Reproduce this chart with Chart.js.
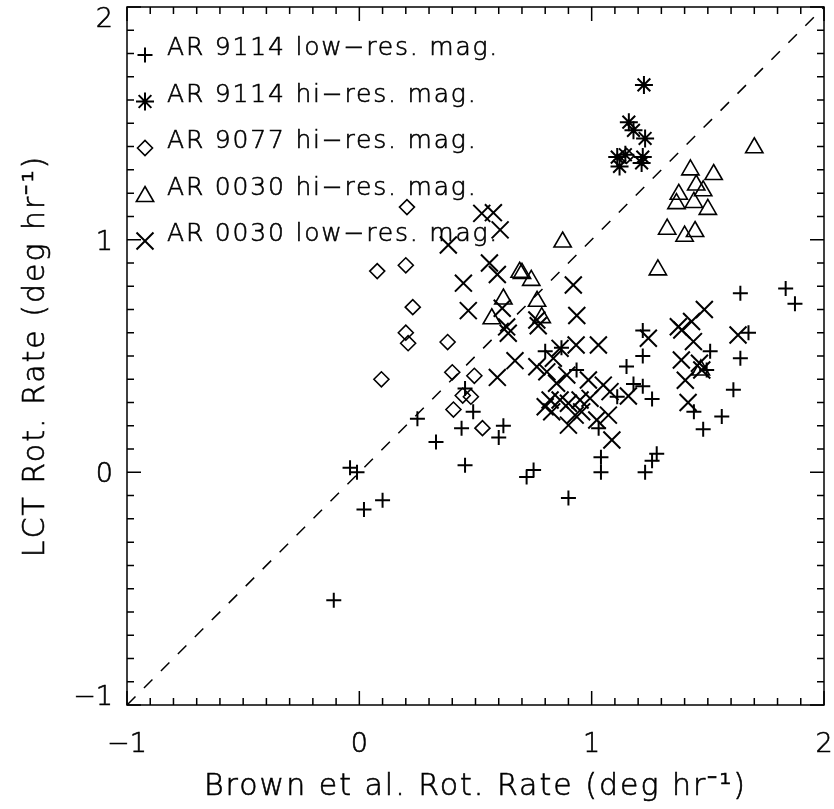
<!DOCTYPE html>
<html>
<head>
<meta charset="utf-8">
<script src="https://cdn.jsdelivr.net/npm/chart.js@4/dist/chart.umd.min.js"></script>
<style>
  html, body { margin: 0; padding: 0; background: #fff; overflow: hidden; }
  #wrap { width: 834px; height: 809px; overflow: hidden; position: relative; }
  #c { position: absolute; left: 0; top: -30px; }
</style>
</head>
<body>
<div id="wrap"><canvas id="c" width="900" height="839"></canvas></div>
<script>
// Rotation rates (deg/hr): Brown et al. (x) vs. LCT (y)

// AR 9114, low-resolution magnetograms
const ar9114LowX = [-0.11, -0.04, -0.01, 0.02, 0.10, 0.25, 0.33, 0.455, 0.49, 0.44, 0.455, 0.62, 0.60,
  0.72, 0.75, 0.90, 1.04, 1.04, 1.23, 1.26, 1.28, 1.64, 1.835, 1.875, 1.51, 1.675, 1.64, 1.495,
  1.61, 1.44, 1.56, 1.48, 1.22, 1.22, 1.15, 1.18, 1.22, 1.26, 1.11, 1.03, 0.935, 0.87, 0.80];
const ar9114LowY = [-0.55, 0.02, 0.00, -0.16, -0.12, 0.23, 0.13, 0.36, 0.26, 0.19, 0.03, 0.20, 0.15,
  -0.02, 0.01, -0.11, 0.065, 0.00, 0.00, 0.05, 0.08, 0.77, 0.79, 0.725, 0.52, 0.60, 0.49, 0.44,
  0.355, 0.26, 0.24, 0.185, 0.61, 0.50, 0.455, 0.38, 0.37, 0.315, 0.325, 0.19, 0.44, 0.535, 0.52];

// AR 9114, high-resolution magnetograms
const ar9114HiX = [1.225, 1.16, 1.18, 1.23, 1.11, 1.145, 1.12, 1.22, 1.215];
const ar9114HiY = [1.665, 1.505, 1.47, 1.435, 1.355, 1.365, 1.315, 1.355, 1.33];

// AR 9077, high-resolution magnetograms
const ar9077HiX = [0.205, 0.077, 0.20, 0.23, 0.20, 0.21, 0.38, 0.095, 0.40, 0.495, 0.445, 0.48, 0.405, 0.53, 1.15];
const ar9077HiY = [1.14, 0.865, 0.89, 0.71, 0.60, 0.555, 0.56, 0.40, 0.43, 0.415, 0.33, 0.325, 0.27, 0.19, 1.36];

// AR 0030, high-resolution magnetograms
const ar0030HiX = [1.70, 1.425, 1.525, 1.45, 1.48, 1.375, 1.365, 1.44, 1.50, 1.325, 1.40, 1.445,
  1.285, 0.875, 0.69, 0.70, 0.74, 0.62, 0.57, 0.765, 0.785, 1.47];
const ar0030HiY = [1.395, 1.30, 1.28, 1.235, 1.21, 1.195, 1.155, 1.16, 1.13, 1.045, 1.015, 1.035,
  0.87, 0.99, 0.86, 0.855, 0.825, 0.745, 0.66, 0.735, 0.665, 0.44];

// AR 0030, low-resolution magnetograms
const ar0030LowX = [0.527, 0.577, 0.606, 0.383, 0.56, 0.594, 0.448, 0.469, 0.615, 0.634, 0.641, 0.67,
  0.594, 0.921, 0.936, 0.764, 0.77,
  0.864, 0.933, 1.029, 0.835, 0.764, 0.807, 0.893, 0.849, 0.986, 1.05, 1.079, 1.158, 0.821, 0.864,
  0.80, 0.90, 0.95, 0.993, 0.828, 0.957, 1.072, 0.90, 1.022, 1.087, 0.929, 1.244,
  1.485, 1.43, 1.373, 1.388, 1.438, 1.63, 1.386, 1.464, 1.474, 1.403, 1.415];
const ar0030LowY = [1.113, 1.116, 1.042, 0.977, 0.90, 0.85, 0.813, 0.695, 0.705, 0.625, 0.598, 0.48,
  0.408, 0.805, 0.674, 0.655, 0.63,
  0.533, 0.547, 0.547, 0.49, 0.454, 0.432, 0.418, 0.383, 0.397, 0.375, 0.347, 0.328, 0.311, 0.311,
  0.282, 0.297, 0.311, 0.318, 0.26, 0.26, 0.246, 0.203, 0.225, 0.139, 0.246, 0.576,
  0.70, 0.648, 0.626, 0.612, 0.562, 0.59, 0.483, 0.469, 0.44, 0.396, 0.30];

// one-to-one reference line
const diagX = [-1, 2];
const diagY = [-1, 2];

// axis tick values
const tickValues = [-1, 0, 1, 2];

const seriesNames = ['AR 9114 low\u2212res. mag.', 'AR 9114 hi\u2212res. mag.', 'AR 9077 hi\u2212res. mag.',
  'AR 0030 hi\u2212res. mag.', 'AR 0030 low\u2212res. mag.'];
const xTitle = 'Brown et al. Rot. Rate (deg hr\u207B\u00B9)';
const yTitle = 'LCT Rot. Rate (deg hr\u207B\u00B9)';

const FAMILY = "'DejaVu Sans', 'Liberation Sans', sans-serif";
const WEIGHT = '200';
const CANVAS_SHIFT = 30;   // canvas sits 30px above the page top

function pairs(xs, ys) { return xs.map((x, i) => ({ x: x, y: ys[i] })); }
function fmt(v) { return (v < 0 ? '\u2212' : '') + Math.abs(v); }

// thin-stroked text, filled and lightly outlined
function text(ctx, s, x, y) {
  ctx.fillText(s, x, y);
  ctx.strokeText(s, x, y);
}

const markerStyles = [
  { pointStyle: 'cross', radius: 7.5, width: 2 },
  { pointStyle: 'star', radius: 9, width: 2 },
  { pointStyle: 'rectRot', radius: 7.5, width: 1.6 },
  { pointStyle: 'triangle', radius: 10, width: 1.6 },
  { pointStyle: 'crossRot', radius: 12, width: 2 }
];

function scatterSet(i, xs, ys) {
  const m = markerStyles[i];
  return {
    label: seriesNames[i],
    data: pairs(xs, ys),
    pointStyle: m.pointStyle,
    pointRadius: m.radius,
    pointHoverRadius: m.radius,
    pointBorderWidth: m.width,
    pointBorderColor: '#000',
    pointBackgroundColor: 'rgba(0,0,0,0)',
    showLine: false
  };
}

// frame with inward major/minor ticks on all four sides
const framePlugin = {
  id: 'frame',
  afterDraw(chart) {
    const { ctx, chartArea: a, scales } = chart;
    ctx.save();
    ctx.strokeStyle = '#000';
    ctx.lineWidth = 1.5;
    ctx.strokeRect(a.left, a.top, a.right - a.left, a.bottom - a.top);
    ctx.beginPath();
    for (let k = -10; k <= 20; k++) {
      const v = k / 10;
      const len = (k % 10 === 0) ? 14 : 7;
      const px = scales.x.getPixelForValue(v);
      ctx.moveTo(px, a.bottom); ctx.lineTo(px, a.bottom - len);
      ctx.moveTo(px, a.top); ctx.lineTo(px, a.top + len);
      const py = scales.y.getPixelForValue(v);
      ctx.moveTo(a.left, py); ctx.lineTo(a.left + len, py);
      ctx.moveTo(a.right, py); ctx.lineTo(a.right - len, py);
    }
    ctx.stroke();
    ctx.restore();
  }
};

// tick labels (y end labels kept inside the axis range) and axis titles
const textPlugin = {
  id: 'axisText',
  afterDraw(chart) {
    const { ctx, chartArea: a, scales } = chart;
    ctx.save();
    ctx.fillStyle = '#000';
    ctx.strokeStyle = '#000';
    ctx.lineWidth = 0.6;
    ctx.font = WEIGHT + ' 27px ' + FAMILY;
    ctx.textBaseline = 'alphabetic';
    ctx.textAlign = 'right';
    tickValues.forEach((v, i) => {
      const py = scales.y.getPixelForValue(v);
      let yb = py + 10;
      if (i === tickValues.length - 1) yb = a.top + 20;
      if (i === 0) yb = a.bottom;
      text(ctx, fmt(v), a.left - 14, yb);
    });
    ctx.textAlign = 'center';
    tickValues.forEach(v => {
      text(ctx, fmt(v), scales.x.getPixelForValue(v), a.bottom + 47);
    });
    ctx.font = WEIGHT + ' 30px ' + FAMILY;
    ctx.letterSpacing = '2px';
    text(ctx, xTitle, (a.left + a.right) / 2, 795 + CANVAS_SHIFT);
    ctx.translate(44, (a.top + a.bottom) / 2);
    ctx.rotate(-Math.PI / 2);
    text(ctx, yTitle, 0, 0);
    ctx.restore();
  }
};

// key in the upper-left corner of the plot
const keyPlugin = {
  id: 'key',
  afterDraw(chart) {
    const { ctx, chartArea: a } = chart;
    ctx.save();
    ctx.strokeStyle = '#000';
    ctx.font = WEIGHT + ' 25px ' + FAMILY;
    ctx.letterSpacing = '1.8px';
    ctx.textBaseline = 'alphabetic';
    ctx.textAlign = 'left';
    for (let i = 0; i < seriesNames.length; i++) {
      const yb = a.top + 48 + i * 46.5;
      const m = markerStyles[i];
      ctx.fillStyle = 'rgba(0,0,0,0)';
      ctx.lineWidth = m.width;
      Chart.helpers.drawPoint(ctx, {
        pointStyle: m.pointStyle, radius: m.radius, rotation: 0, borderWidth: m.width
      }, a.left + 18, yb + (m.pointStyle === 'triangle' ? 2 : 0));
      ctx.fillStyle = '#000';
      ctx.lineWidth = 0.6;
      text(ctx, seriesNames[i], a.left + 40, yb);
    }
    ctx.restore();
  }
};

const chart = new Chart(document.getElementById('c'), {
  type: 'scatter',
  data: {
    datasets: [
      scatterSet(0, ar9114LowX, ar9114LowY),
      scatterSet(1, ar9114HiX, ar9114HiY),
      scatterSet(2, ar9077HiX, ar9077HiY),
      scatterSet(3, ar0030HiX, ar0030HiY),
      scatterSet(4, ar0030LowX, ar0030LowY),
      {
        type: 'line',
        label: 'one-to-one',
        data: pairs(diagX, diagY),
        borderColor: '#000',
        borderWidth: 1.5,
        borderDash: [12, 12],
        pointRadius: 0,
        fill: false
      }
    ]
  },
  options: {
    responsive: false,
    animation: false,
    devicePixelRatio: 1,
    layout: { padding: { top: 7 + CANVAS_SHIFT, right: 76, left: 0, bottom: 0 } },
    plugins: { legend: { display: false }, tooltip: { enabled: false } },
    scales: {
      x: {
        type: 'linear', min: -1, max: 2,
        afterBuildTicks(s) { s.ticks = tickValues.map(v => ({ value: v })); },
        grid: { display: false, drawTicks: false },
        border: { display: false },
        ticks: { display: false },
        title: { display: false },
        afterFit(s) { s.height = 104; }
      },
      y: {
        type: 'linear', min: -1, max: 2,
        afterBuildTicks(s) { s.ticks = tickValues.map(v => ({ value: v })); },
        grid: { display: false, drawTicks: false },
        border: { display: false },
        ticks: { display: false },
        title: { display: false },
        afterFit(s) { s.width = 127; }
      }
    }
  },
  plugins: [framePlugin, textPlugin, keyPlugin]
});

// settle the right edge of the plotting area at x = 824
for (let k = 0; k < 3; k++) {
  const d = chart.chartArea.right - 824;
  if (Math.abs(d) < 0.5) break;
  chart.options.layout.padding.right += d;
  chart.update();
}
</script>
</body>
</html>
